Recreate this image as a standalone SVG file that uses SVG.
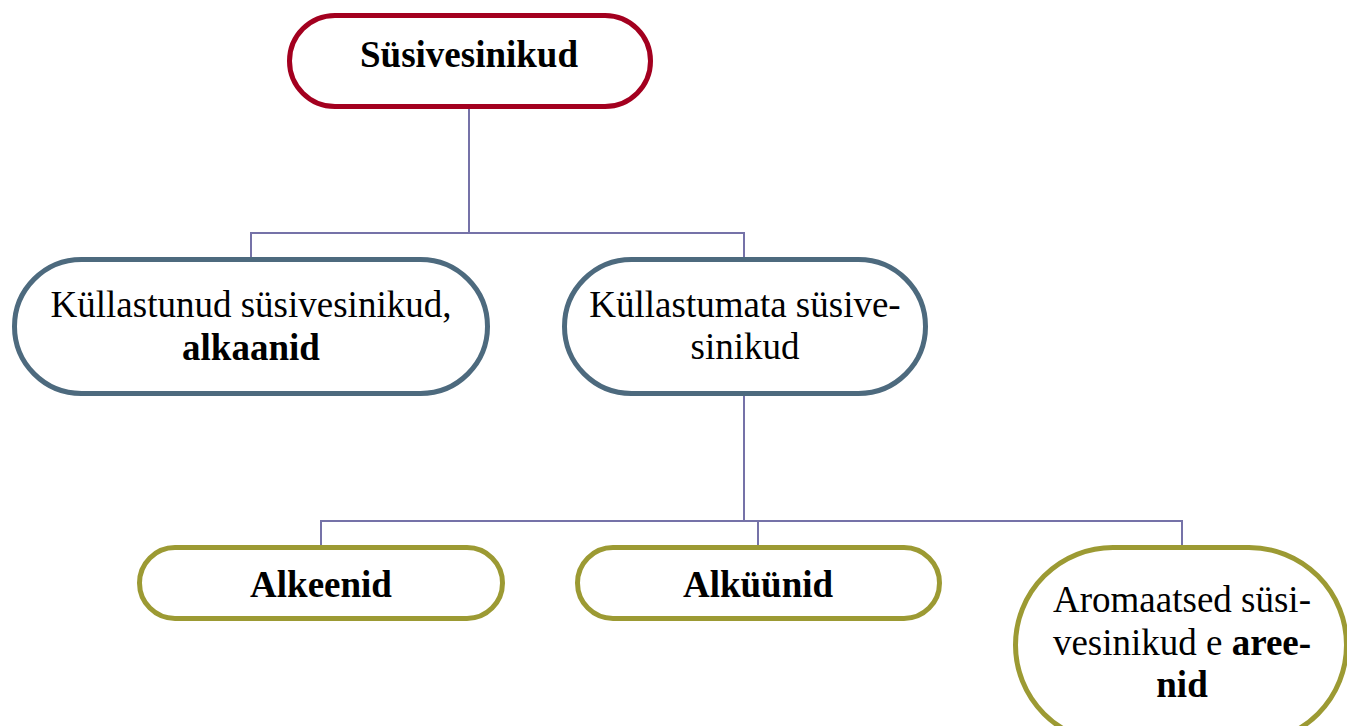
<svg xmlns="http://www.w3.org/2000/svg" width="1347" height="726" viewBox="0 0 1347 726">
<style>
.node{fill:#ffffff;stroke-width:5}
.red{stroke:#a3001f}
.blue{stroke:#4d6a7e}
.olive{stroke:#9c9a33}
.conn{fill:none;stroke:#7572a8;stroke-width:2}
text{font-family:"Liberation Serif","Times New Roman",serif;font-size:37px;fill:#000000;text-anchor:middle}
.b{font-weight:bold}
</style>
<rect width="1347" height="726" fill="#ffffff"/>
<g id="connectors">
<path class="conn" d="M469 109 V233 M251 259 V233 H744 V259"/>
<path class="conn" d="M744 395 V521 M321 545 V521 H1182 V545 M758 521 V545"/>
</g>
<g id="node-susivesinikud">
<rect class="node red" x="289.5" y="15.5" width="361" height="91" rx="45.5"/>
<text class="b" x="469" y="67">Süsivesinikud</text>
</g>
<g id="node-kyllastunud">
<rect class="node blue" x="14.5" y="259.5" width="473" height="134" rx="67"/>
<text x="251" y="317">Küllastunud süsivesinikud,</text>
<text class="b" x="251" y="360">alkaanid</text>
</g>
<g id="node-kyllastumata">
<rect class="node blue" x="564.5" y="259.5" width="361" height="134" rx="67"/>
<text x="745" y="317">Küllastumata süsive-</text>
<text x="745" y="359">sinikud</text>
</g>
<g id="node-alkeenid">
<rect class="node olive" x="139.5" y="547.5" width="363" height="71" rx="35.5"/>
<text class="b" x="321" y="597">Alkeenid</text>
</g>
<g id="node-alkyynid">
<rect class="node olive" x="577.5" y="547.5" width="362" height="71" rx="35.5"/>
<text class="b" x="758" y="597">Alküünid</text>
</g>
<g id="node-aromaatsed">
<rect class="node olive" x="1015.5" y="547.5" width="331" height="195" rx="97.5"/>
<text x="1182" y="612">Aromaatsed süsi-</text>
<text x="1182" y="655">vesinikud e <tspan class="b">aree-</tspan></text>
<text class="b" x="1182" y="697">nid</text>
</g>
</svg>
